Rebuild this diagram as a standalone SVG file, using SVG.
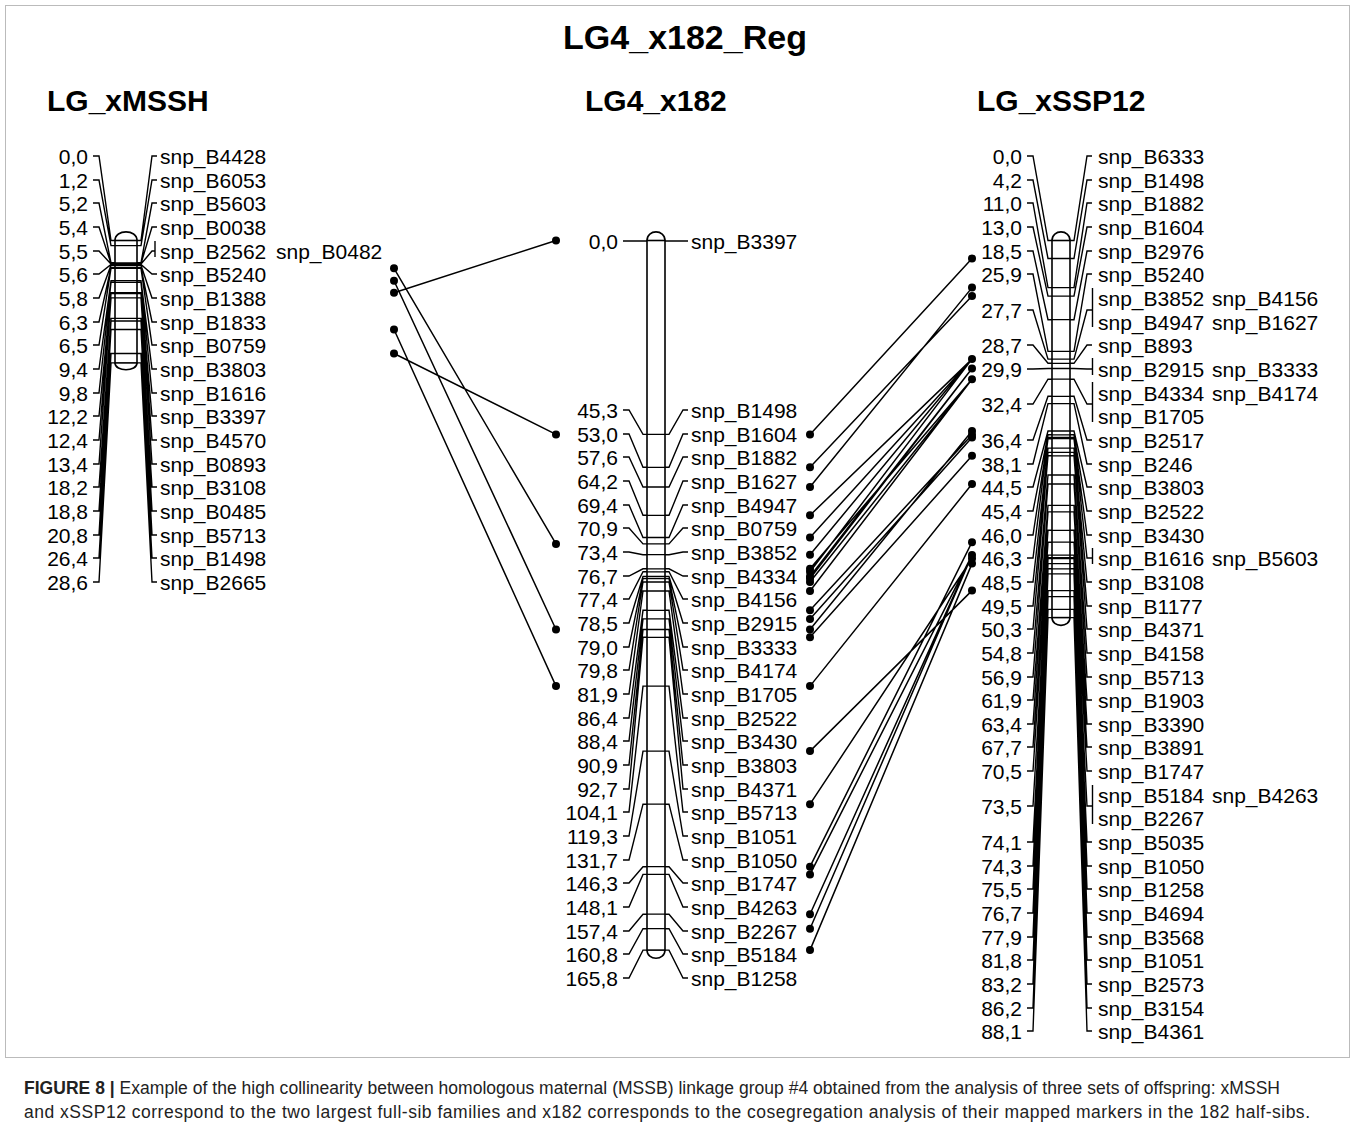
<svg xmlns="http://www.w3.org/2000/svg" width="1355" height="1132" viewBox="0 0 1355 1132">
<style>
text{font-family:"Liberation Sans",Arial,sans-serif;fill:#000}
.t{font-size:21px}
.n{font-size:21px;text-anchor:end}
.h{font-size:30px;font-weight:bold}
.ti{font-size:34px;font-weight:bold;text-anchor:middle}
.cap{font-size:17.5px;fill:#222}
.ld{fill:none;stroke:#000;stroke-width:1.4}
.bar{fill:#fff;stroke:#000;stroke-width:1.6}
.tk{fill:none;stroke:#000;stroke-width:1.3}
.cn{fill:none;stroke:#000;stroke-width:1.5}
.dot{fill:#000}
</style>
<rect x="5.5" y="5.5" width="1344" height="1052" fill="#fff" stroke="#bbb" stroke-width="1"/>
<g id="title"><text class="ti" x="685" y="49">LG4_x182_Reg</text></g>

<g id="chr-xMSSH">
<text class="h" x="47" y="111">LG_xMSSH</text>
<path class="ld" d="M93,156H99L111,240.5H115M93,180H99L111,245.6H115M93,203H99L111,262.8H115M93,227H99L111,263.6H115M93,251H99L111,264H115M93,274H99L111,264.5H115M93,298H99L111,265.3H115M93,322H99L111,267.5H115M93,345H99L111,268.3H115M93,369H99L111,280.7H115M93,393H99L111,282.4H115M93,416H99L111,292.7H115M93,440H99L111,293.6H115M93,464H99L111,297.9H115M93,487H99L111,318.4H115M93,511H99L111,321H115M93,535H99L111,329.5H115M93,558H99L111,353.5H115M93,582H99L111,362.9H115"/>
<path class="ld" d="M137,240.5H141L152,156H157M137,245.6H141L152,180H157M137,262.8H141L152,203H157M137,263.6H141L152,227H157M137,264H141L152,251H155M155,241V257M137,264.5H141L152,274H157M137,265.3H141L152,298H157M137,267.5H141L152,322H157M137,268.3H141L152,345H157M137,280.7H141L152,369H157M137,282.4H141L152,393H157M137,292.7H141L152,416H157M137,293.6H141L152,440H157M137,297.9H141L152,464H157M137,318.4H141L152,487H157M137,321H141L152,511H157M137,329.5H141L152,535H157M137,353.5H141L152,558H157M137,362.9H141L152,582H157"/>
<path class="bar" d="M115,240.5C115,229 137,229 137,240.5M115,362.9C115,372 137,372 137,362.9"/>
<rect class="bar" x="115" y="240.5" width="22" height="122.4"/>
<path class="tk" d="M115,245.6H137M115,262.8H137M115,263.6H137M115,264H137M115,264.5H137M115,265.3H137M115,267.5H137M115,268.3H137M115,280.7H137M115,282.4H137M115,292.7H137M115,293.6H137M115,297.9H137M115,318.4H137M115,321H137M115,329.5H137M115,353.5H137"/>
<text class="n" x="88" y="164">0,0</text><text class="n" x="88" y="188">1,2</text><text class="n" x="88" y="211">5,2</text><text class="n" x="88" y="235">5,4</text><text class="n" x="88" y="259">5,5</text><text class="n" x="88" y="282">5,6</text><text class="n" x="88" y="306">5,8</text><text class="n" x="88" y="330">6,3</text><text class="n" x="88" y="353">6,5</text><text class="n" x="88" y="377">9,4</text><text class="n" x="88" y="401">9,8</text><text class="n" x="88" y="424">12,2</text><text class="n" x="88" y="448">12,4</text><text class="n" x="88" y="472">13,4</text><text class="n" x="88" y="495">18,2</text><text class="n" x="88" y="519">18,8</text><text class="n" x="88" y="543">20,8</text><text class="n" x="88" y="566">26,4</text><text class="n" x="88" y="590">28,6</text>
<text class="t" x="160" y="164">snp_B4428</text><text class="t" x="160" y="188">snp_B6053</text><text class="t" x="160" y="211">snp_B5603</text><text class="t" x="160" y="235">snp_B0038</text><text class="t" x="160" y="259">snp_B2562</text><text class="t" x="276" y="259">snp_B0482</text><text class="t" x="160" y="282">snp_B5240</text><text class="t" x="160" y="306">snp_B1388</text><text class="t" x="160" y="330">snp_B1833</text><text class="t" x="160" y="353">snp_B0759</text><text class="t" x="160" y="377">snp_B3803</text><text class="t" x="160" y="401">snp_B1616</text><text class="t" x="160" y="424">snp_B3397</text><text class="t" x="160" y="448">snp_B4570</text><text class="t" x="160" y="472">snp_B0893</text><text class="t" x="160" y="495">snp_B3108</text><text class="t" x="160" y="519">snp_B0485</text><text class="t" x="160" y="543">snp_B5713</text><text class="t" x="160" y="566">snp_B1498</text><text class="t" x="160" y="590">snp_B2665</text>
</g>

<g id="chr-x182">
<text class="h" x="585" y="111">LG4_x182</text>
<path class="ld" d="M623,241H647M665,241H688M623,410H629L643,434.4H647M623,434H629L643,467.3H647M623,457H629L643,487H647M623,481H629L643,515.3H647M623,505H629L643,537.5H647M623,528H629L643,543.9H647M623,552H629L643,554.7H647M623,576H629L643,568.8H647M623,599H629L643,571.8H647M623,623H629L643,576.5H647M623,647H629L643,578.6H647M623,670H629L643,582H647M623,694H629L643,591H647M623,718H629L643,610.3H647M623,741H629L643,618.9H647M623,765H629L643,629.5H647M623,789H629L643,637.3H647M623,812H629L643,686.1H647M623,836H629L643,751.1H647M623,860H629L643,804.2H647M623,883H629L643,866.7H647M623,907H629L643,874.4H647M623,931H629L643,914.2H647M623,954H629L643,928.7H647M623,978H629L643,950.1H647"/>
<path class="ld" d="M665,434.4H669L683,410H688M665,467.3H669L683,434H688M665,487H669L683,457H688M665,515.3H669L683,481H688M665,537.5H669L683,505H688M665,543.9H669L683,528H688M665,554.7H669L683,552H688M665,568.8H669L683,576H688M665,571.8H669L683,599H688M665,576.5H669L683,623H688M665,578.6H669L683,647H688M665,582H669L683,670H688M665,591H669L683,694H688M665,610.3H669L683,718H688M665,618.9H669L683,741H688M665,629.5H669L683,765H688M665,637.3H669L683,789H688M665,686.1H669L683,812H688M665,751.1H669L683,836H688M665,804.2H669L683,860H688M665,866.7H669L683,883H688M665,874.4H669L683,907H688M665,914.2H669L683,931H688M665,928.7H669L683,954H688M665,950.1H669L683,978H688"/>
<path class="bar" d="M647,240.5C647,229 665,229 665,240.5M647,950.1C647,961 665,961 665,950.1"/>
<rect class="bar" x="647" y="240.5" width="18" height="709.6"/>
<path class="tk" d="M647,434.4H665M647,467.3H665M647,487H665M647,515.3H665M647,537.5H665M647,543.9H665M647,554.7H665M647,568.8H665M647,571.8H665M647,576.5H665M647,578.6H665M647,582H665M647,591H665M647,610.3H665M647,618.9H665M647,629.5H665M647,637.3H665M647,686.1H665M647,751.1H665M647,804.2H665M647,866.7H665M647,874.4H665M647,914.2H665M647,928.7H665"/>
<text class="n" x="618" y="249">0,0</text><text class="n" x="618" y="418">45,3</text><text class="n" x="618" y="442">53,0</text><text class="n" x="618" y="465">57,6</text><text class="n" x="618" y="489">64,2</text><text class="n" x="618" y="513">69,4</text><text class="n" x="618" y="536">70,9</text><text class="n" x="618" y="560">73,4</text><text class="n" x="618" y="584">76,7</text><text class="n" x="618" y="607">77,4</text><text class="n" x="618" y="631">78,5</text><text class="n" x="618" y="655">79,0</text><text class="n" x="618" y="678">79,8</text><text class="n" x="618" y="702">81,9</text><text class="n" x="618" y="726">86,4</text><text class="n" x="618" y="749">88,4</text><text class="n" x="618" y="773">90,9</text><text class="n" x="618" y="797">92,7</text><text class="n" x="618" y="820">104,1</text><text class="n" x="618" y="844">119,3</text><text class="n" x="618" y="868">131,7</text><text class="n" x="618" y="891">146,3</text><text class="n" x="618" y="915">148,1</text><text class="n" x="618" y="939">157,4</text><text class="n" x="618" y="962">160,8</text><text class="n" x="618" y="986">165,8</text>
<text class="t" x="691" y="249">snp_B3397</text><text class="t" x="691" y="418">snp_B1498</text><text class="t" x="691" y="442">snp_B1604</text><text class="t" x="691" y="465">snp_B1882</text><text class="t" x="691" y="489">snp_B1627</text><text class="t" x="691" y="513">snp_B4947</text><text class="t" x="691" y="536">snp_B0759</text><text class="t" x="691" y="560">snp_B3852</text><text class="t" x="691" y="584">snp_B4334</text><text class="t" x="691" y="607">snp_B4156</text><text class="t" x="691" y="631">snp_B2915</text><text class="t" x="691" y="655">snp_B3333</text><text class="t" x="691" y="678">snp_B4174</text><text class="t" x="691" y="702">snp_B1705</text><text class="t" x="691" y="726">snp_B2522</text><text class="t" x="691" y="749">snp_B3430</text><text class="t" x="691" y="773">snp_B3803</text><text class="t" x="691" y="797">snp_B4371</text><text class="t" x="691" y="820">snp_B5713</text><text class="t" x="691" y="844">snp_B1051</text><text class="t" x="691" y="868">snp_B1050</text><text class="t" x="691" y="891">snp_B1747</text><text class="t" x="691" y="915">snp_B4263</text><text class="t" x="691" y="939">snp_B2267</text><text class="t" x="691" y="962">snp_B5184</text><text class="t" x="691" y="986">snp_B1258</text>
</g>

<g id="chr-xSSP12">
<text class="h" x="977" y="111">LG_xSSP12</text>
<path class="ld" d="M1027,156H1033L1048,240.5H1052M1027,180H1033L1048,258.5H1052M1027,203H1033L1048,287.6H1052M1027,227H1033L1048,296.1H1052M1027,251H1033L1048,319.7H1052M1027,274H1033L1048,351.4H1052M1027,310H1033L1048,359.1H1052M1027,345H1033L1048,363.3H1052M1027,369H1033L1048,368.5H1052M1027,404H1033L1048,379.2H1052M1027,440H1033L1048,396.3H1052M1027,464H1033L1048,403.6H1052M1027,487H1033L1048,431H1052M1027,511H1033L1048,434.8H1052M1027,535H1033L1048,437.4H1052M1027,558H1033L1048,438.7H1052M1027,582H1033L1048,448.1H1052M1027,606H1033L1048,452.4H1052M1027,629H1033L1048,455.8H1052M1027,653H1033L1048,475H1052M1027,677H1033L1048,484H1052M1027,700H1033L1048,505.4H1052M1027,724H1033L1048,511.9H1052M1027,747H1033L1048,530.3H1052M1027,771H1033L1048,542.2H1052M1027,806H1033L1048,555.1H1052M1027,842H1033L1048,557.6H1052M1027,866H1033L1048,558.5H1052M1027,889H1033L1048,563.6H1052M1027,913H1033L1048,568.8H1052M1027,937H1033L1048,573.9H1052M1027,960H1033L1048,590.6H1052M1027,984H1033L1048,596.6H1052M1027,1008H1033L1048,609.4H1052M1027,1031H1033L1048,617.6H1052"/>
<path class="ld" d="M1070,240.5H1074L1087,156H1092M1070,258.5H1074L1087,180H1092M1070,287.6H1074L1087,203H1092M1070,296.1H1074L1087,227H1092M1070,319.7H1074L1087,251H1092M1070,351.4H1074L1087,274H1092M1070,359.1H1074L1087,310H1092.5M1092.5,288V327M1070,363.3H1074L1087,345H1092M1070,368.5H1074L1087,369H1092.5M1092.5,358V375M1070,379.2H1074L1087,404H1092.5M1092.5,382V422M1070,396.3H1074L1087,440H1092M1070,403.6H1074L1087,464H1092M1070,431H1074L1087,487H1092M1070,434.8H1074L1087,511H1092M1070,437.4H1074L1087,535H1092M1070,438.7H1074L1087,558H1092.5M1092.5,548V564M1070,448.1H1074L1087,582H1092M1070,452.4H1074L1087,606H1092M1070,455.8H1074L1087,629H1092M1070,475H1074L1087,653H1092M1070,484H1074L1087,677H1092M1070,505.4H1074L1087,700H1092M1070,511.9H1074L1087,724H1092M1070,530.3H1074L1087,747H1092M1070,542.2H1074L1087,771H1092M1070,555.1H1074L1087,806H1092.5M1092.5,785V824M1070,557.6H1074L1087,842H1092M1070,558.5H1074L1087,866H1092M1070,563.6H1074L1087,889H1092M1070,568.8H1074L1087,913H1092M1070,573.9H1074L1087,937H1092M1070,590.6H1074L1087,960H1092M1070,596.6H1074L1087,984H1092M1070,609.4H1074L1087,1008H1092M1070,617.6H1074L1087,1031H1092"/>
<path class="bar" d="M1052,240.5C1052,229 1070,229 1070,240.5M1052,617.6C1052,628 1070,628 1070,617.6"/>
<rect class="bar" x="1052" y="240.5" width="18" height="377.1"/>
<path class="tk" d="M1052,258.5H1070M1052,287.6H1070M1052,296.1H1070M1052,319.7H1070M1052,351.4H1070M1052,359.1H1070M1052,363.3H1070M1052,368.5H1070M1052,379.2H1070M1052,396.3H1070M1052,403.6H1070M1052,431H1070M1052,434.8H1070M1052,437.4H1070M1052,438.7H1070M1052,448.1H1070M1052,452.4H1070M1052,455.8H1070M1052,475H1070M1052,484H1070M1052,505.4H1070M1052,511.9H1070M1052,530.3H1070M1052,542.2H1070M1052,555.1H1070M1052,557.6H1070M1052,558.5H1070M1052,563.6H1070M1052,568.8H1070M1052,573.9H1070M1052,590.6H1070M1052,596.6H1070M1052,609.4H1070"/>
<text class="n" x="1022" y="164">0,0</text><text class="n" x="1022" y="188">4,2</text><text class="n" x="1022" y="211">11,0</text><text class="n" x="1022" y="235">13,0</text><text class="n" x="1022" y="259">18,5</text><text class="n" x="1022" y="282">25,9</text><text class="n" x="1022" y="318">27,7</text><text class="n" x="1022" y="353">28,7</text><text class="n" x="1022" y="377">29,9</text><text class="n" x="1022" y="412">32,4</text><text class="n" x="1022" y="448">36,4</text><text class="n" x="1022" y="472">38,1</text><text class="n" x="1022" y="495">44,5</text><text class="n" x="1022" y="519">45,4</text><text class="n" x="1022" y="543">46,0</text><text class="n" x="1022" y="566">46,3</text><text class="n" x="1022" y="590">48,5</text><text class="n" x="1022" y="614">49,5</text><text class="n" x="1022" y="637">50,3</text><text class="n" x="1022" y="661">54,8</text><text class="n" x="1022" y="685">56,9</text><text class="n" x="1022" y="708">61,9</text><text class="n" x="1022" y="732">63,4</text><text class="n" x="1022" y="755">67,7</text><text class="n" x="1022" y="779">70,5</text><text class="n" x="1022" y="814">73,5</text><text class="n" x="1022" y="850">74,1</text><text class="n" x="1022" y="874">74,3</text><text class="n" x="1022" y="897">75,5</text><text class="n" x="1022" y="921">76,7</text><text class="n" x="1022" y="945">77,9</text><text class="n" x="1022" y="968">81,8</text><text class="n" x="1022" y="992">83,2</text><text class="n" x="1022" y="1016">86,2</text><text class="n" x="1022" y="1039">88,1</text>
<text class="t" x="1098" y="164">snp_B6333</text><text class="t" x="1098" y="188">snp_B1498</text><text class="t" x="1098" y="211">snp_B1882</text><text class="t" x="1098" y="235">snp_B1604</text><text class="t" x="1098" y="259">snp_B2976</text><text class="t" x="1098" y="282">snp_B5240</text><text class="t" x="1098" y="306">snp_B3852</text><text class="t" x="1212" y="306">snp_B4156</text><text class="t" x="1098" y="330">snp_B4947</text><text class="t" x="1212" y="330">snp_B1627</text><text class="t" x="1098" y="353">snp_B893</text><text class="t" x="1098" y="377">snp_B2915</text><text class="t" x="1212" y="377">snp_B3333</text><text class="t" x="1098" y="401">snp_B4334</text><text class="t" x="1212" y="401">snp_B4174</text><text class="t" x="1098" y="424">snp_B1705</text><text class="t" x="1098" y="448">snp_B2517</text><text class="t" x="1098" y="472">snp_B246</text><text class="t" x="1098" y="495">snp_B3803</text><text class="t" x="1098" y="519">snp_B2522</text><text class="t" x="1098" y="543">snp_B3430</text><text class="t" x="1098" y="566">snp_B1616</text><text class="t" x="1212" y="566">snp_B5603</text><text class="t" x="1098" y="590">snp_B3108</text><text class="t" x="1098" y="614">snp_B1177</text><text class="t" x="1098" y="637">snp_B4371</text><text class="t" x="1098" y="661">snp_B4158</text><text class="t" x="1098" y="685">snp_B5713</text><text class="t" x="1098" y="708">snp_B1903</text><text class="t" x="1098" y="732">snp_B3390</text><text class="t" x="1098" y="755">snp_B3891</text><text class="t" x="1098" y="779">snp_B1747</text><text class="t" x="1098" y="803">snp_B5184</text><text class="t" x="1212" y="803">snp_B4263</text><text class="t" x="1098" y="826">snp_B2267</text><text class="t" x="1098" y="850">snp_B5035</text><text class="t" x="1098" y="874">snp_B1050</text><text class="t" x="1098" y="897">snp_B1258</text><text class="t" x="1098" y="921">snp_B4694</text><text class="t" x="1098" y="945">snp_B3568</text><text class="t" x="1098" y="968">snp_B1051</text><text class="t" x="1098" y="992">snp_B2573</text><text class="t" x="1098" y="1016">snp_B3154</text><text class="t" x="1098" y="1039">snp_B4361</text>
</g>

<g id="connectors">
<path class="cn" d="M394,268.3L556,543.9M394,280.7L556,629.5M394,292.7L556,240.5M394,329.5L556,686.1M394,353.5L556,434.4"/>
<path class="cn" d="M810,434.4L972,258.5M810,467.3L972,296.1M810,487L972,287.6M810,515.3L972,359.1M810,537.5L972,359.1M810,554.7L972,359.1M810,568.8L972,379.2M810,571.8L972,359.1M810,576.5L972,368.5M810,578.6L972,368.5M810,582L972,379.2M810,591L972,379.2M810,610.3L972,434.8M810,618.9L972,437.4M810,629.5L972,431M810,637.3L972,455.8M810,686.1L972,484M810,751.1L972,590.6M810,804.2L972,558.5M810,866.7L972,542.2M810,874.4L972,555.1M810,914.2L972,555.1M810,928.7L972,555.1M810,950.1L972,563.6"/>
<g class="dot">
<circle cx="394" cy="268.3" r="4"/><circle cx="394" cy="280.7" r="4"/><circle cx="394" cy="292.7" r="4"/><circle cx="394" cy="329.5" r="4"/><circle cx="394" cy="353.5" r="4"/>
<circle cx="556" cy="543.9" r="4"/><circle cx="556" cy="629.5" r="4"/><circle cx="556" cy="240.5" r="4"/><circle cx="556" cy="686.1" r="4"/><circle cx="556" cy="434.4" r="4"/>
<circle cx="810" cy="434.4" r="4"/><circle cx="810" cy="467.3" r="4"/><circle cx="810" cy="487" r="4"/><circle cx="810" cy="515.3" r="4"/><circle cx="810" cy="537.5" r="4"/><circle cx="810" cy="554.7" r="4"/><circle cx="810" cy="568.8" r="4"/><circle cx="810" cy="571.8" r="4"/><circle cx="810" cy="576.5" r="4"/><circle cx="810" cy="578.6" r="4"/><circle cx="810" cy="582" r="4"/><circle cx="810" cy="591" r="4"/><circle cx="810" cy="610.3" r="4"/><circle cx="810" cy="618.9" r="4"/><circle cx="810" cy="629.5" r="4"/><circle cx="810" cy="637.3" r="4"/><circle cx="810" cy="686.1" r="4"/><circle cx="810" cy="751.1" r="4"/><circle cx="810" cy="804.2" r="4"/><circle cx="810" cy="866.7" r="4"/><circle cx="810" cy="874.4" r="4"/><circle cx="810" cy="914.2" r="4"/><circle cx="810" cy="928.7" r="4"/><circle cx="810" cy="950.1" r="4"/>
<circle cx="972" cy="258.5" r="4"/><circle cx="972" cy="296.1" r="4"/><circle cx="972" cy="287.6" r="4"/><circle cx="972" cy="359.1" r="4"/><circle cx="972" cy="379.2" r="4"/><circle cx="972" cy="368.5" r="4"/><circle cx="972" cy="434.8" r="4"/><circle cx="972" cy="437.4" r="4"/><circle cx="972" cy="431" r="4"/><circle cx="972" cy="455.8" r="4"/><circle cx="972" cy="484" r="4"/><circle cx="972" cy="590.6" r="4"/><circle cx="972" cy="558.5" r="4"/><circle cx="972" cy="542.2" r="4"/><circle cx="972" cy="555.1" r="4"/><circle cx="972" cy="563.6" r="4"/>
</g>
</g>

<g id="caption">
<text class="cap" x="24" y="1094" textLength="1256" lengthAdjust="spacing"><tspan font-weight="bold">FIGURE 8 |</tspan> Example of the high collinearity between homologous maternal (MSSB) linkage group #4 obtained from the analysis of three sets of offspring: xMSSH</text>
<text class="cap" x="24" y="1118" textLength="1286" lengthAdjust="spacing">and xSSP12 correspond to the two largest full-sib families and x182 corresponds to the cosegregation analysis of their mapped markers in the 182 half-sibs.</text>
</g>
</svg>
